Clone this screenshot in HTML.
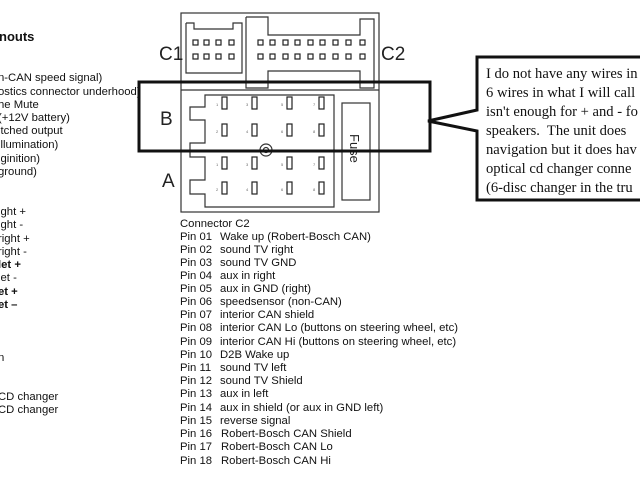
<!DOCTYPE html>
<html><head><meta charset="utf-8"><style>
html,body{margin:0;padding:0;background:#fff;width:640px;height:480px;overflow:hidden}
svg{display:block}
.t{font-family:"Liberation Sans",sans-serif;font-size:11.3px;fill:#111}
.s{font-family:"Liberation Serif",serif;font-size:14.6px;fill:#111}
</style></head><body>
<svg width="640" height="480" viewBox="0 0 640 480" xmlns="http://www.w3.org/2000/svg">
<text x="-1" y="41" style="font-family:'Liberation Sans',sans-serif;font-size:13px;font-weight:bold;fill:#111">nouts</text>
<g class="t">
<text x="-2" y="81">n-CAN speed signal)</text>
<text x="-2" y="95">ostics connector underhood)</text>
<text x="-2" y="108">he Mute</text>
<text x="-2" y="121">(+12V battery)</text>
<text x="-2" y="134">itched output</text>
<text x="-2" y="148">illumination)</text>
<text x="-2" y="162">iginition)</text>
<text x="-2" y="175">ground)</text>
<text x="-2" y="215">ight +</text>
<text x="-2" y="228">ight -</text>
<text x="-2" y="242">right +</text>
<text x="-2" y="255">right -</text>
<text x="-2" y="268" font-weight="bold">let +</text>
<text x="-2" y="281">let -</text>
<text x="-2" y="295" font-weight="bold">et +</text>
<text x="-2" y="308" font-weight="bold">et –</text>
<text x="-2" y="361">n</text>
<text x="-2" y="400">CD changer</text>
<text x="-2" y="413">CD changer</text>
</g>
<g fill="none" stroke="#333" stroke-width="1.2">
<rect x="181" y="13" width="198" height="199"/>
<line x1="181" y1="90" x2="379" y2="90"/>
<polyline points="186,23 194,23 194,29 233,29 233,23 242,23 242,73 186,73 186,23"/>
<polyline points="246,17 268,17 268,35 360,35 360,19 374,19 374,88 360,88 360,71 268,71 268,88 246,88 246,17"/>
<polygon points="205,95 334,95 334,207 205,207 205,194 190,194 190,180 205,180 205,157 190,157 190,143 205,143 205,120 190,120 190,107 205,107"/>
<rect x="342" y="103" width="28" height="97"/>
<circle cx="266" cy="150" r="6"/><circle cx="266" cy="150" r="2.5"/>
</g>
<g fill="#fff" stroke="#222" stroke-width="1.2">
<rect x="193" y="40" width="5" height="5"/><rect x="204" y="40" width="5" height="5"/><rect x="216" y="40" width="5" height="5"/><rect x="229" y="40" width="5" height="5"/>
<rect x="193" y="54" width="5" height="5"/><rect x="204" y="54" width="5" height="5"/><rect x="216" y="54" width="5" height="5"/><rect x="229" y="54" width="5" height="5"/>
<rect x="258" y="40" width="5" height="5"/><rect x="270" y="40" width="5" height="5"/><rect x="283" y="40" width="5" height="5"/><rect x="295" y="40" width="5" height="5"/><rect x="308" y="40" width="5" height="5"/><rect x="320" y="40" width="5" height="5"/><rect x="333" y="40" width="5" height="5"/><rect x="346" y="40" width="5" height="5"/><rect x="360" y="40" width="5" height="5"/>
<rect x="258" y="54" width="5" height="5"/><rect x="270" y="54" width="5" height="5"/><rect x="283" y="54" width="5" height="5"/><rect x="295" y="54" width="5" height="5"/><rect x="308" y="54" width="5" height="5"/><rect x="320" y="54" width="5" height="5"/><rect x="333" y="54" width="5" height="5"/><rect x="346" y="54" width="5" height="5"/><rect x="360" y="54" width="5" height="5"/>
<rect x="222" y="97" width="5" height="12"/><rect x="252" y="97" width="5" height="12"/><rect x="287" y="97" width="5" height="12"/><rect x="319" y="97" width="5" height="12"/>
<rect x="222" y="124" width="5" height="12"/><rect x="252" y="124" width="5" height="12"/><rect x="287" y="124" width="5" height="12"/><rect x="319" y="124" width="5" height="12"/>
<rect x="222" y="157" width="5" height="12"/><rect x="252" y="157" width="5" height="12"/><rect x="287" y="157" width="5" height="12"/><rect x="319" y="157" width="5" height="12"/>
<rect x="222" y="182" width="5" height="12"/><rect x="252" y="182" width="5" height="12"/><rect x="287" y="182" width="5" height="12"/><rect x="319" y="182" width="5" height="12"/>
</g>
<g style="font-family:'Liberation Sans',sans-serif;font-size:4px;fill:#666">
<text x="216" y="106">1</text><text x="246" y="106">3</text><text x="281" y="106">5</text><text x="313" y="106">7</text>
<text x="216" y="133">2</text><text x="246" y="133">4</text><text x="281" y="133">6</text><text x="313" y="133">8</text>
<text x="216" y="166">1</text><text x="246" y="166">3</text><text x="281" y="166">5</text><text x="313" y="166">7</text>
<text x="216" y="191">2</text><text x="246" y="191">4</text><text x="281" y="191">6</text><text x="313" y="191">8</text>
</g>
<g style="font-family:'Liberation Sans',sans-serif;font-size:19px;fill:#222">
<text x="159" y="60">C1</text><text x="381" y="60">C2</text>
<text x="160" y="125">B</text><text x="162" y="187">A</text>
</g>
<text x="350" y="134" transform="rotate(90 350 134)" style="font-family:'Liberation Sans',sans-serif;font-size:13px;fill:#222">Fuse</text>
<rect x="139" y="82" width="291" height="69" fill="none" stroke="#111" stroke-width="3"/>
<polygon points="477,57 642,57 642,200 477,200 477,131 428,121 477,110" fill="#fff" stroke="#111" stroke-width="3"/>
<g class="s">
<text x="486" y="78">I do not have any wires in</text>
<text x="486" y="97">6 wires in what I will call</text>
<text x="486" y="116">isn't enough for + and - fo</text>
<text x="486" y="135">speakers.&#160; The unit does</text>
<text x="486" y="154">navigation but it does hav</text>
<text x="486" y="173">optical cd changer conne</text>
<text x="486" y="192">(6-disc changer in the tru</text>
</g>
<g class="t">
<text x="180" y="227">Connector C2</text>
<text x="180" y="240">Pin 01</text><text x="220" y="240">Wake up (Robert-Bosch CAN)</text>
<text x="180" y="253">Pin 02</text><text x="220" y="253">sound TV right</text>
<text x="180" y="266">Pin 03</text><text x="220" y="266">sound TV GND</text>
<text x="180" y="279">Pin 04</text><text x="220" y="279">aux in right</text>
<text x="180" y="292">Pin 05</text><text x="220" y="292">aux in GND (right)</text>
<text x="180" y="305">Pin 06</text><text x="220" y="305">speedsensor (non-CAN)</text>
<text x="180" y="318">Pin 07</text><text x="220" y="318">interior CAN shield</text>
<text x="180" y="331">Pin 08</text><text x="220" y="331">interior CAN Lo (buttons on steering wheel, etc)</text>
<text x="180" y="345">Pin 09</text><text x="220" y="345">interior CAN Hi (buttons on steering wheel, etc)</text>
<text x="180" y="358">Pin 10</text><text x="220" y="358">D2B Wake up</text>
<text x="180" y="371">Pin 11</text><text x="220" y="371">sound TV left</text>
<text x="180" y="384">Pin 12</text><text x="220" y="384">sound TV Shield</text>
<text x="180" y="397">Pin 13</text><text x="220" y="397">aux in left</text>
<text x="180" y="411">Pin 14</text><text x="220" y="411">aux in shield (or aux in GND left)</text>
<text x="180" y="424">Pin 15</text><text x="220" y="424">reverse signal</text>
<text x="180" y="437">Pin 16</text><text x="221" y="437">Robert-Bosch CAN Shield</text>
<text x="180" y="450">Pin 17</text><text x="221" y="450">Robert-Bosch CAN Lo</text>
<text x="180" y="464">Pin 18</text><text x="221" y="464">Robert-Bosch CAN Hi</text>
</g>
</svg>
</body></html>
